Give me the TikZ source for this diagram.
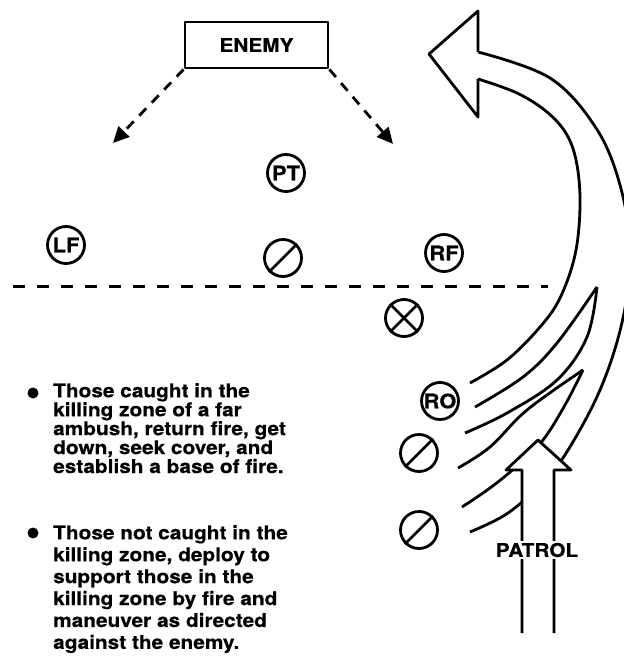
\documentclass[tikz,border=0pt]{standalone}
\usepackage{fontspec}
\newfontfamily\hb{TeX Gyre Heros}[FakeStretch=1.1,FakeBold=0.4]
\usetikzlibrary{arrows.meta}
\begin{document}
\begin{tikzpicture}[x=1bp,y=-1bp,line join=round,
  lw/.style={line width=2.8bp},
  lbl/.style={font=\hb\bfseries\fontsize{19}{19}\selectfont},
  unit/.style={circle,draw,line width=2.8bp,minimum size=37bp,inner sep=0pt,font=\hb\bfseries\fontsize{20}{20}\selectfont},
  dasharrow/.style={line width=2.8bp,dash pattern=on 10bp off 8bp,-{Triangle[length=16bp,width=15bp]}},
  bullettext/.style={anchor=north west,align=left,inner sep=0pt,font=\hb\bfseries\fontsize{19}{19}\selectfont}]
\useasboundingbox (0,0) rectangle (624,665);
\clip (0,0) rectangle (624,665);

% enemy and dashed arrows
\node[draw,lw,minimum width=143bp,minimum height=46bp,inner sep=0pt,lbl] (enemy) at (256.5,45) {ENEMY};
\coordinate (lt) at (113,143);
\coordinate (rt) at (393,144);
\draw[dasharrow] (enemy.south west) -- (lt);
\draw[dasharrow] (enemy.south east) -- (rt);

% units
\node[unit] (pt) at (286,173) {PT};
\node[unit] (lf) at (66,245) {LF};
\node[unit] (rf) at (444,253) {RF};
\node[unit] (ro) at (440,401) {RO};
\node[unit] (s1) at (283,258) {};
\draw[lw] (s1.south west) -- (s1.north east);
\node[unit] (s2) at (419,453) {};
\draw[lw] (s2.south west) -- (s2.north east);
\node[unit] (s3) at (419,530) {};
\draw[lw] (s3.south west) -- (s3.north east);
\node[unit] (x1) at (404,318) {};
\draw[lw] (x1.south west) -- (x1.north east);
\draw[lw] (x1.north west) -- (x1.south east);

% dashed line
\coordinate (dl) at (13,286);
\coordinate (dr) at (548,286);
\draw[line width=3bp,dash pattern=on 12bp off 12bp] (dl) -- (dr);

% big curved arrow
\draw[lw] (478,52) -- (478,11) -- (429,54) -- (478,117) -- (478,79);
\draw[lw] plot[smooth,tension=0.6] coordinates {(478,52) (550,78) (596,128) (620,185) (630,250) (623,318) (600,390) (563,458) (535,490) (505,515) (470,532)};
\draw[lw] plot[smooth,tension=0.6] coordinates {(478,79) (517,93) (547,112) (567,135) (577,165) (580,207) (575,255) (560,298) (540,327) (507,360) (470,383)};
% lens 1
\draw[lw] plot[smooth,tension=0.6] coordinates {(597,287) (557,343) (523,377) (475,407)};
\draw[lw] plot[smooth,tension=0.6] coordinates {(597,287) (587,337) (557,380) (507,413) (465,433)};
% lens 2
\draw[lw] plot[smooth,tension=0.6] coordinates {(583,370) (527,410) (490,447) (458,468)};
\draw[lw] plot[smooth,tension=0.6] coordinates {(583,370) (565,405) (543,440) (517,466) (490,488) (462,507)};

% patrol arrow
\fill[white] (538,440) -- (571,470) -- (554,470) -- (554,640) -- (522,640) -- (522,470) -- (506,470) -- cycle;
\draw[lw] (522,633) -- (522,470) -- (506,470) -- (538,440) -- (571,470) -- (554,470) -- (554,633);
\node[fill=white,inner sep=1.5bp,lbl] (patrol) at (537,550) {PATROL};

% bullets
\fill (33,393) circle (5.5);
\node[bullettext] (b1) at (53,383) {Those caught in the\\killing zone of a far\\ambush, return fire, get\\down, seek cover, and\\establish a base of fire.};
\fill (33,533) circle (5.5);
\node[bullettext,font=\hb\bfseries\fontsize{19}{22}\selectfont] (b2) at (53,525) {Those not caught in the\\killing zone, deploy to\\support those in the\\killing zone by fire and\\maneuver as directed\\against the enemy.};
\end{tikzpicture}
\end{document}
